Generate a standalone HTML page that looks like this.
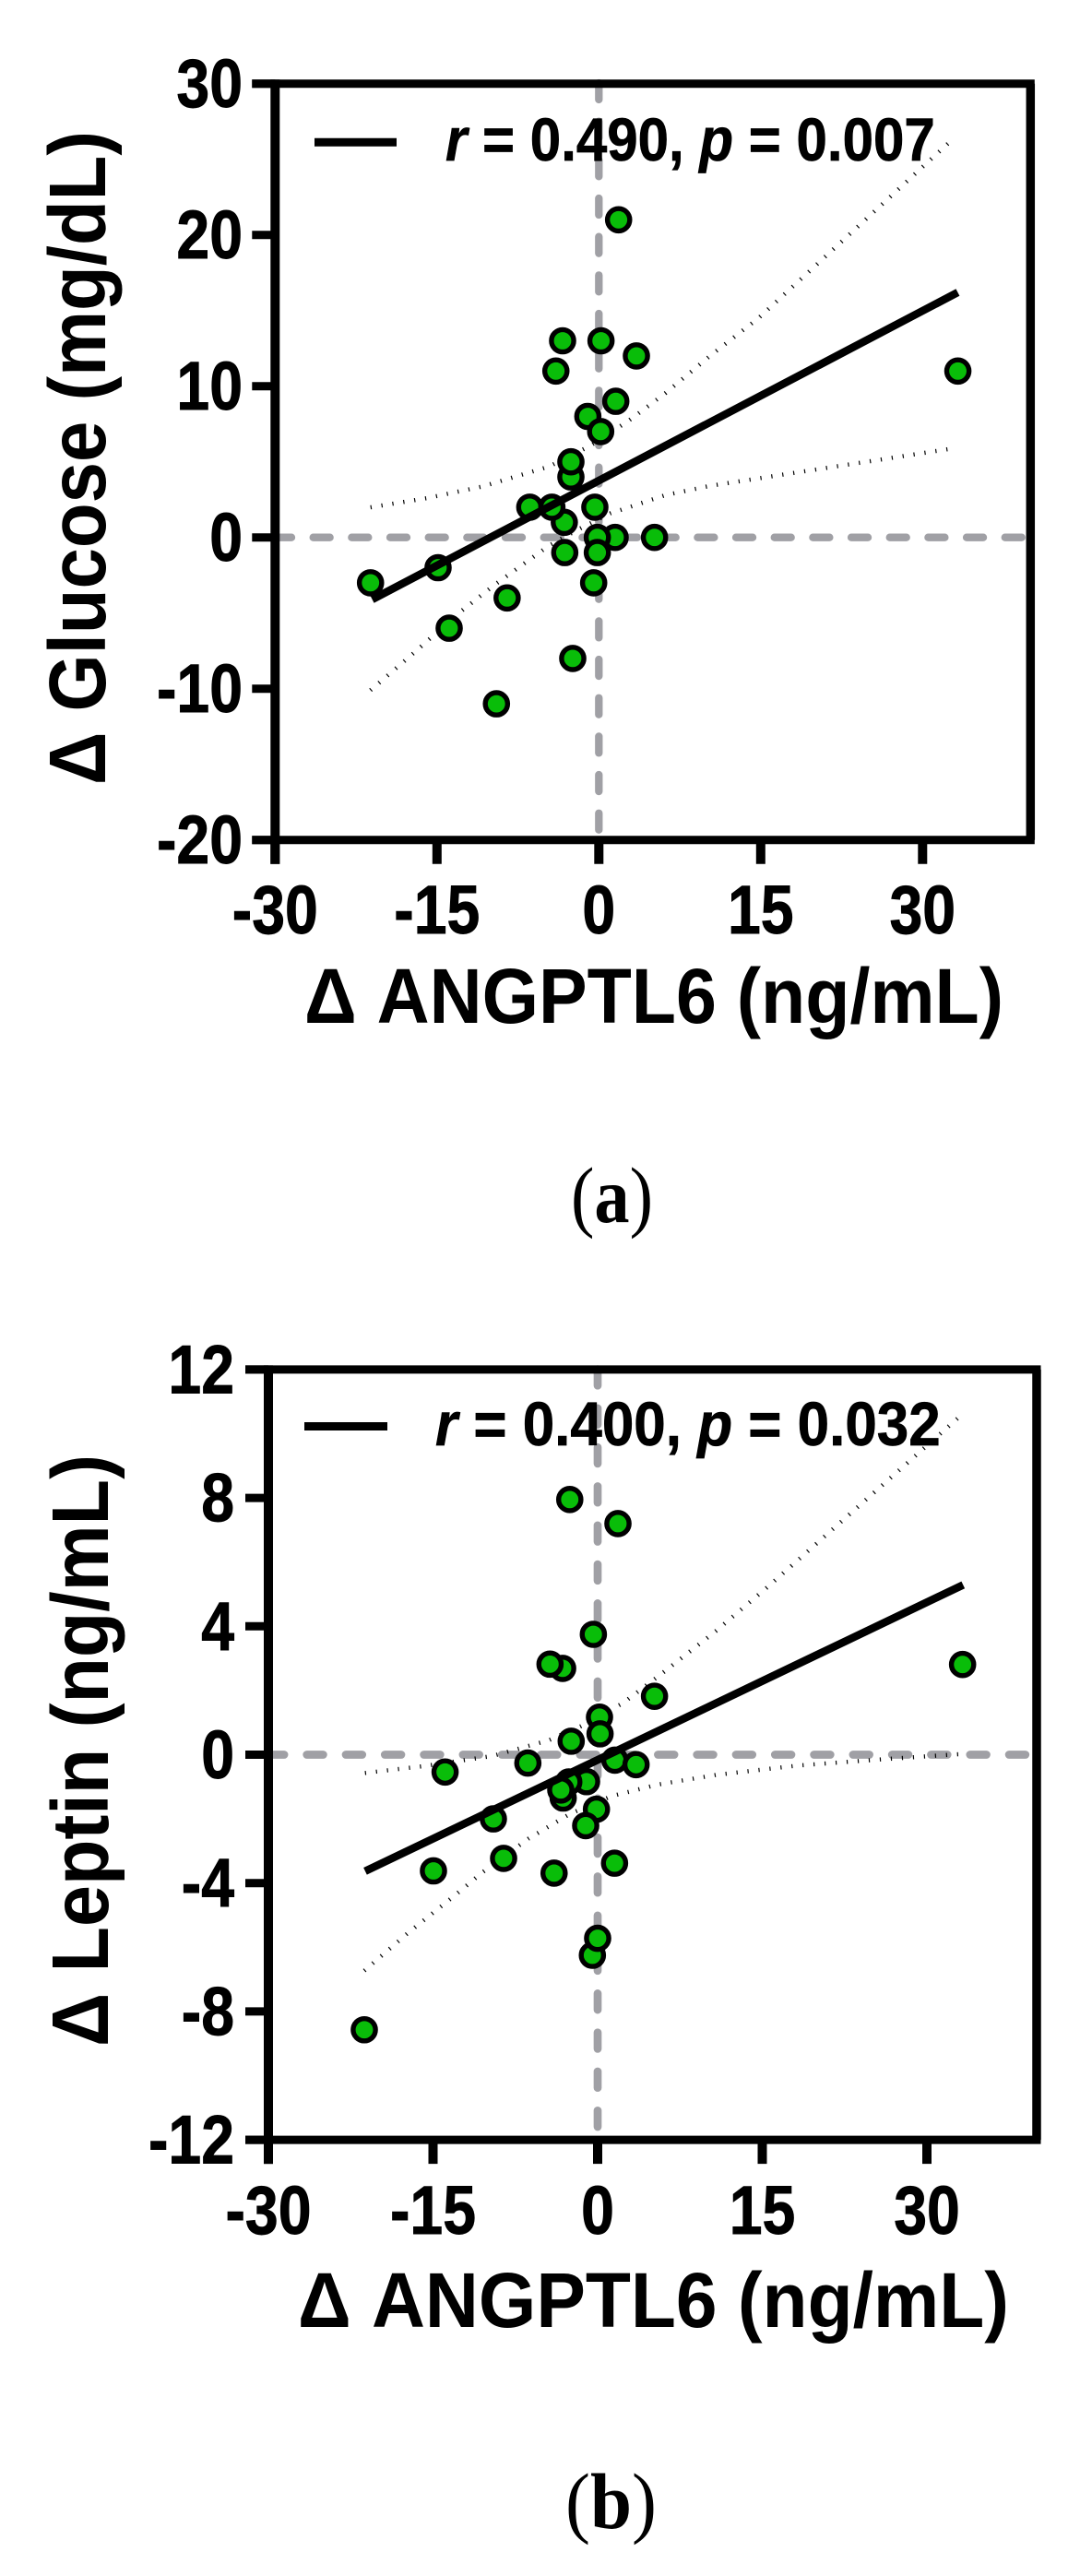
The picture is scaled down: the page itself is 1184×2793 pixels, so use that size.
<!DOCTYPE html>
<html lang="en">
<head>
<meta charset="utf-8">
<title>ANGPTL6 correlation scatter plots</title>
<style>
html,body{margin:0;padding:0;background:#fff;}
svg{display:block;}
text{font-family:"Liberation Sans",Arial,sans-serif;font-weight:bold;fill:#000;}
</style>
</head>
<body>
<svg id="figure" xmlns="http://www.w3.org/2000/svg" width="1184" height="2793" viewBox="0 0 1184 2793">
<rect x="0" y="0" width="1184" height="2793" fill="#fff"/>
<g id="panelA"></g>
<g id="panelB"></g>
<text x="619" y="1325" textLength="89" lengthAdjust="spacingAndGlyphs" style="font-family:'Liberation Serif',serif;font-size:86px;font-weight:normal">(<tspan font-weight="bold">a</tspan>)</text>
<text x="613" y="2741" textLength="99" lengthAdjust="spacingAndGlyphs" style="font-family:'Liberation Serif',serif;font-size:86px;font-weight:normal">(<tspan font-weight="bold">b</tspan>)</text>
</svg>
<script>
// Shared x axis
const angptlTicks = [-30, -15, 0, 15, 30];
const angptlTickLabels = ['-30', '-15', '0', '15', '30'];

// Panel A: glucose
const glucoseYTicks = [-20, -10, 0, 10, 20, 30];
const glucoseYLabels = ['-20', '-10', '0', '10', '20', '30'];
const glucoseX = [-21.16, -14.9, -13.87, -8.5, -9.49, -2.42, -0.48, -3.16, 1.51, -0.14, -0.14, 5.16, -0.37, -3.2, -6.4, -4.35, -2.59, -2.59, -1.02, 0.17, 1.57, -3.98, -3.36, 0.2, 3.48, 1.83, 33.27];
const glucoseY = [-3, -2, -6, -4, -11, -8, -3, -1, 0, 0, -1, 0, 2, 1, 2, 2, 4, 5, 8, 7, 9, 11, 13, 13, 12, 21, 11];
const glucoseFitX = [-21, 33.26];
const glucoseFitY = [-4.1, 16.2];
const glucoseUpperX = [-21.16, -15.9, -10.77, -4.64, -0.8, 2.77, 6.19, 10.3, 14.8, 32.6];
const glucoseUpperY = [1.99, 2.6, 3.37, 4.68, 6.06, 7.72, 9.55, 12, 14.5, 26.2];
const glucoseLowerX = [-21.16, -17.18, -13.19, -9.77, -4.64, -1.8, 1.06, 6.19, 10.3, 32.6];
const glucoseLowerY = [-10.1, -7.66, -5.12, -3.19, -0.55, 0.57, 1.59, 2.8, 3.41, 5.86];

// Panel B: leptin
const leptinYTicks = [-12, -8, -4, 0, 4, 8, 12];
const leptinYLabels = ['-12', '-8', '-4', '0', '4', '8', '12'];
const leptinX = [-0.39, -3.19, -4.34, 5.18, 0.17, 0.22, -2.41, -6.36, -13.9, 1.57, 3.5, -1.01, -2.63, -3.14, -3.36, -0.11, -1.09, -9.5, -14.96, -8.57, -3.97, 1.54, -0.48, 0, -21.26, -2.54, 1.85, 33.25];
const leptinY = [3.75, 2.69, 2.82, 1.82, 1.17, 0.65, 0.42, -0.26, -0.54, -0.17, -0.31, -0.84, -0.85, -1.35, -1.1, -1.7, -2.21, -2.0, -3.62, -3.23, -3.69, -3.38, -6.25, -5.72, -8.57, 7.95, 7.2, 2.81];
const leptinFitX = [-21.18, 33.3];
const leptinFitY = [-3.63, 5.29];
const leptinUpperX = [-21.2, -15.94, -9.58, -4.45, -1.51, 2.27, 5.63, 10.8, 15.6, 24.4, 33.2];
const leptinUpperY = [-0.57, -0.36, -0.04, 0.45, 0.89, 1.6, 2.47, 3.86, 5.26, 7.93, 10.6];
const leptinLowerX = [-21.26, -17.2, -13, -10.48, -6.28, -2.5, 1.29, 5.49, 10.8, 18.2, 25.66, 33.1];
const leptinLowerY = [-6.73, -5.53, -4.38, -3.66, -2.61, -1.84, -1.29, -0.93, -0.63, -0.34, -0.15, 0.02];

const NS = 'http://www.w3.org/2000/svg';
function make(tag, attrs, parent) {
  const n = document.createElementNS(NS, tag);
  for (const k in attrs) n.setAttribute(k, attrs[k]);
  parent.appendChild(n);
  return n;
}
function pathOf(xs, ys, sx, sy) {
  return xs.map(function (v, i) { return (i ? 'L' : 'M') + sx(v).toFixed(2) + ' ' + sy(ys[i]).toFixed(2); }).join(' ');
}
function scaledText(parent, str, x, y, size, sxFactor, anchor) {
  const t = make('text', {transform: 'translate(' + x + ' ' + y + ') scale(' + sxFactor + ' 1)', 'font-size': size, 'text-anchor': anchor, stroke: '#000', 'stroke-width': 0.9}, parent);
  t.textContent = str;
  return t;
}

function drawPanel(cfg) {
  const g = document.getElementById(cfg.id);
  const sx = function (v) { return cfg.x0 + cfg.xUnit * v; };
  const sy = function (v) { return cfg.y0 - cfg.yUnit * v; };
  const left = sx(-30), right = sx(40), top = sy(cfg.yMax), bottom = sy(cfg.yMin);
  const DASH = cfg.dash;

  // reference lines
  const h0 = make('line', {x1: cfg.dashStartX, y1: cfg.y0, x2: right - 4, y2: cfg.y0, stroke: '#a0a0a5', 'stroke-width': cfg.dashW, 'stroke-linecap': 'round', 'stroke-dasharray': DASH}, g);
  
  
  const v0 = make('line', {x1: cfg.x0, y1: cfg.dashStartY, x2: cfg.x0, y2: bottom - 5, stroke: '#a0a0a5', 'stroke-width': cfg.dashW, 'stroke-linecap': 'round', 'stroke-dasharray': DASH}, g);
  
  

  // confidence bands
  const up = make('path', {d: pathOf(cfg.upperX, cfg.upperY, sx, sy), fill: 'none', stroke: '#000', 'stroke-width': 4.5, 'stroke-dasharray': '1.2 10.8'}, g);
  
  
  const lo = make('path', {d: pathOf(cfg.lowerX, cfg.lowerY, sx, sy), fill: 'none', stroke: '#000', 'stroke-width': 4.5, 'stroke-dasharray': '1.2 10.8'}, g);
  
  

  // points
  cfg.xs.forEach(function (v, i) {
    const c = make('circle', {cx: sx(v).toFixed(2), cy: sy(cfg.ys[i]).toFixed(2), r: 12.1, fill: '#09bd09', stroke: '#000', 'stroke-width': 5.4}, g);
    
    
  });

  // regression line
  const fit = make('path', {d: pathOf(cfg.fitX, cfg.fitY, sx, sy), fill: 'none', stroke: '#000', 'stroke-width': 8.5}, g);
  
  

  // frame
  const fl = make('line', {x1: left, y1: top - 4.5, x2: left, y2: bottom + 26, stroke: '#000', 'stroke-width': 10}, g);
  
  
  const fb = make('line', {x1: left - 25, y1: bottom, x2: right + 4.5, y2: bottom, stroke: '#000', 'stroke-width': 9}, g);
  
  
  const ft = make('line', {x1: left - 25, y1: top, x2: right + 4.5, y2: top, stroke: '#000', 'stroke-width': 9}, g);
  
  
  const fr = make('line', {x1: right, y1: top, x2: right, y2: bottom, stroke: '#000', 'stroke-width': 9.5}, g);
  
  

  // y ticks
  cfg.yTicks.forEach(function (v, i) {
    const tick = make('line', {x1: left - 25, y1: sy(v), x2: left, y2: sy(v), stroke: '#000', 'stroke-width': 9}, g);
    
    
    const lab = scaledText(g, cfg.yLabels[i], cfg.yLabelRight, sy(v) + 25.5, 74, 0.87, 'end');
    
    
  });

  // x ticks
  angptlTicks.forEach(function (v, i) {
    const tick = make('line', {x1: sx(v), y1: bottom, x2: sx(v), y2: bottom + 26, stroke: '#000', 'stroke-width': 10}, g);
    
    
    const lab = scaledText(g, angptlTickLabels[i], sx(v), cfg.xLabelY, 74, 0.87, 'middle');
    
    
  });

  // axis titles
  const xt = make('text', {x: cfg.xTitleX, y: cfg.xTitleY, 'font-size': 84, textLength: cfg.xTitleLen, lengthAdjust: 'spacingAndGlyphs'}, g);
  xt.textContent = 'Δ ANGPTL6 (ng/mL)';
  
  
  const yt = make('text', {transform: 'translate(' + cfg.yTitleX + ' ' + cfg.yTitleY + ') rotate(-90)', 'font-size': 87, textLength: cfg.yTitleLen, lengthAdjust: 'spacingAndGlyphs'}, g);
  yt.textContent = cfg.yTitle;
  
  

  // legend
  const ll = make('line', {x1: cfg.legX1, y1: cfg.legY, x2: cfg.legX2, y2: cfg.legY, stroke: '#000', 'stroke-width': 9}, g);
  
  
  const lt = make('text', {transform: 'translate(' + cfg.legTextX + ' ' + cfg.legTextY + ') scale(' + cfg.legScale + ' 1)', 'font-size': cfg.legSize, stroke: '#000', 'stroke-width': 0.7}, g);
  
  
  const r1 = make('tspan', {'font-style': 'italic'}, lt);
  r1.textContent = 'r';
  lt.appendChild(document.createTextNode(' = ' + cfg.rText + ', '));
  const p1 = make('tspan', {'font-style': 'italic'}, lt);
  p1.textContent = 'p';
  lt.appendChild(document.createTextNode(' = ' + cfg.pText));
}

drawPanel({
  id: 'panelA', x0: 649.3, xUnit: 11.7, y0: 582.7, yUnit: 16.4, yMin: -20, yMax: 30,
  dash: '18 23.67', dashW: 8.3, dashStartX: 298, dashStartY: 90,
  xs: glucoseX, ys: glucoseY, fitX: glucoseFitX, fitY: glucoseFitY,
  upperX: glucoseUpperX, upperY: glucoseUpperY, lowerX: glucoseLowerX, lowerY: glucoseLowerY,
  yTicks: glucoseYTicks, yLabels: glucoseYLabels, yLabelRight: 263, xLabelY: 1012,
  xTitleX: 330, xTitleY: 1109, xTitleLen: 758,
  yTitle: 'Δ Glucose (mg/dL)', yTitleX: 114, yTitleY: 851, yTitleLen: 709,
  legX1: 341, legX2: 430, legY: 154.3, legTextX: 483, legTextY: 174, legSize: 66, legScale: 0.91,
  rText: '0.490', pText: '0.007'
});

drawPanel({
  id: 'panelB', x0: 648, xUnit: 11.9, y0: 1902.5, yUnit: 34.8, yMin: -12, yMax: 12,
  dash: '17.7 24.6', dashW: 8.7, dashStartX: 290.4, dashStartY: 1484.6,
  xs: leptinX, ys: leptinY, fitX: leptinFitX, fitY: leptinFitY,
  upperX: leptinUpperX, upperY: leptinUpperY, lowerX: leptinLowerX, lowerY: leptinLowerY,
  yTicks: leptinYTicks, yLabels: leptinYLabels, yLabelRight: 254, xLabelY: 2422,
  xTitleX: 323, xTitleY: 2523, xTitleLen: 771,
  yTitle: 'Δ Leptin (ng/mL)', yTitleX: 117, yTitleY: 2219, yTitleLen: 642,
  legX1: 330, legX2: 420, legY: 1546.5, legTextX: 472, legTextY: 1567, legSize: 67, legScale: 0.925,
  rText: '0.400', pText: '0.032'
});
</script>
</body>
</html>
